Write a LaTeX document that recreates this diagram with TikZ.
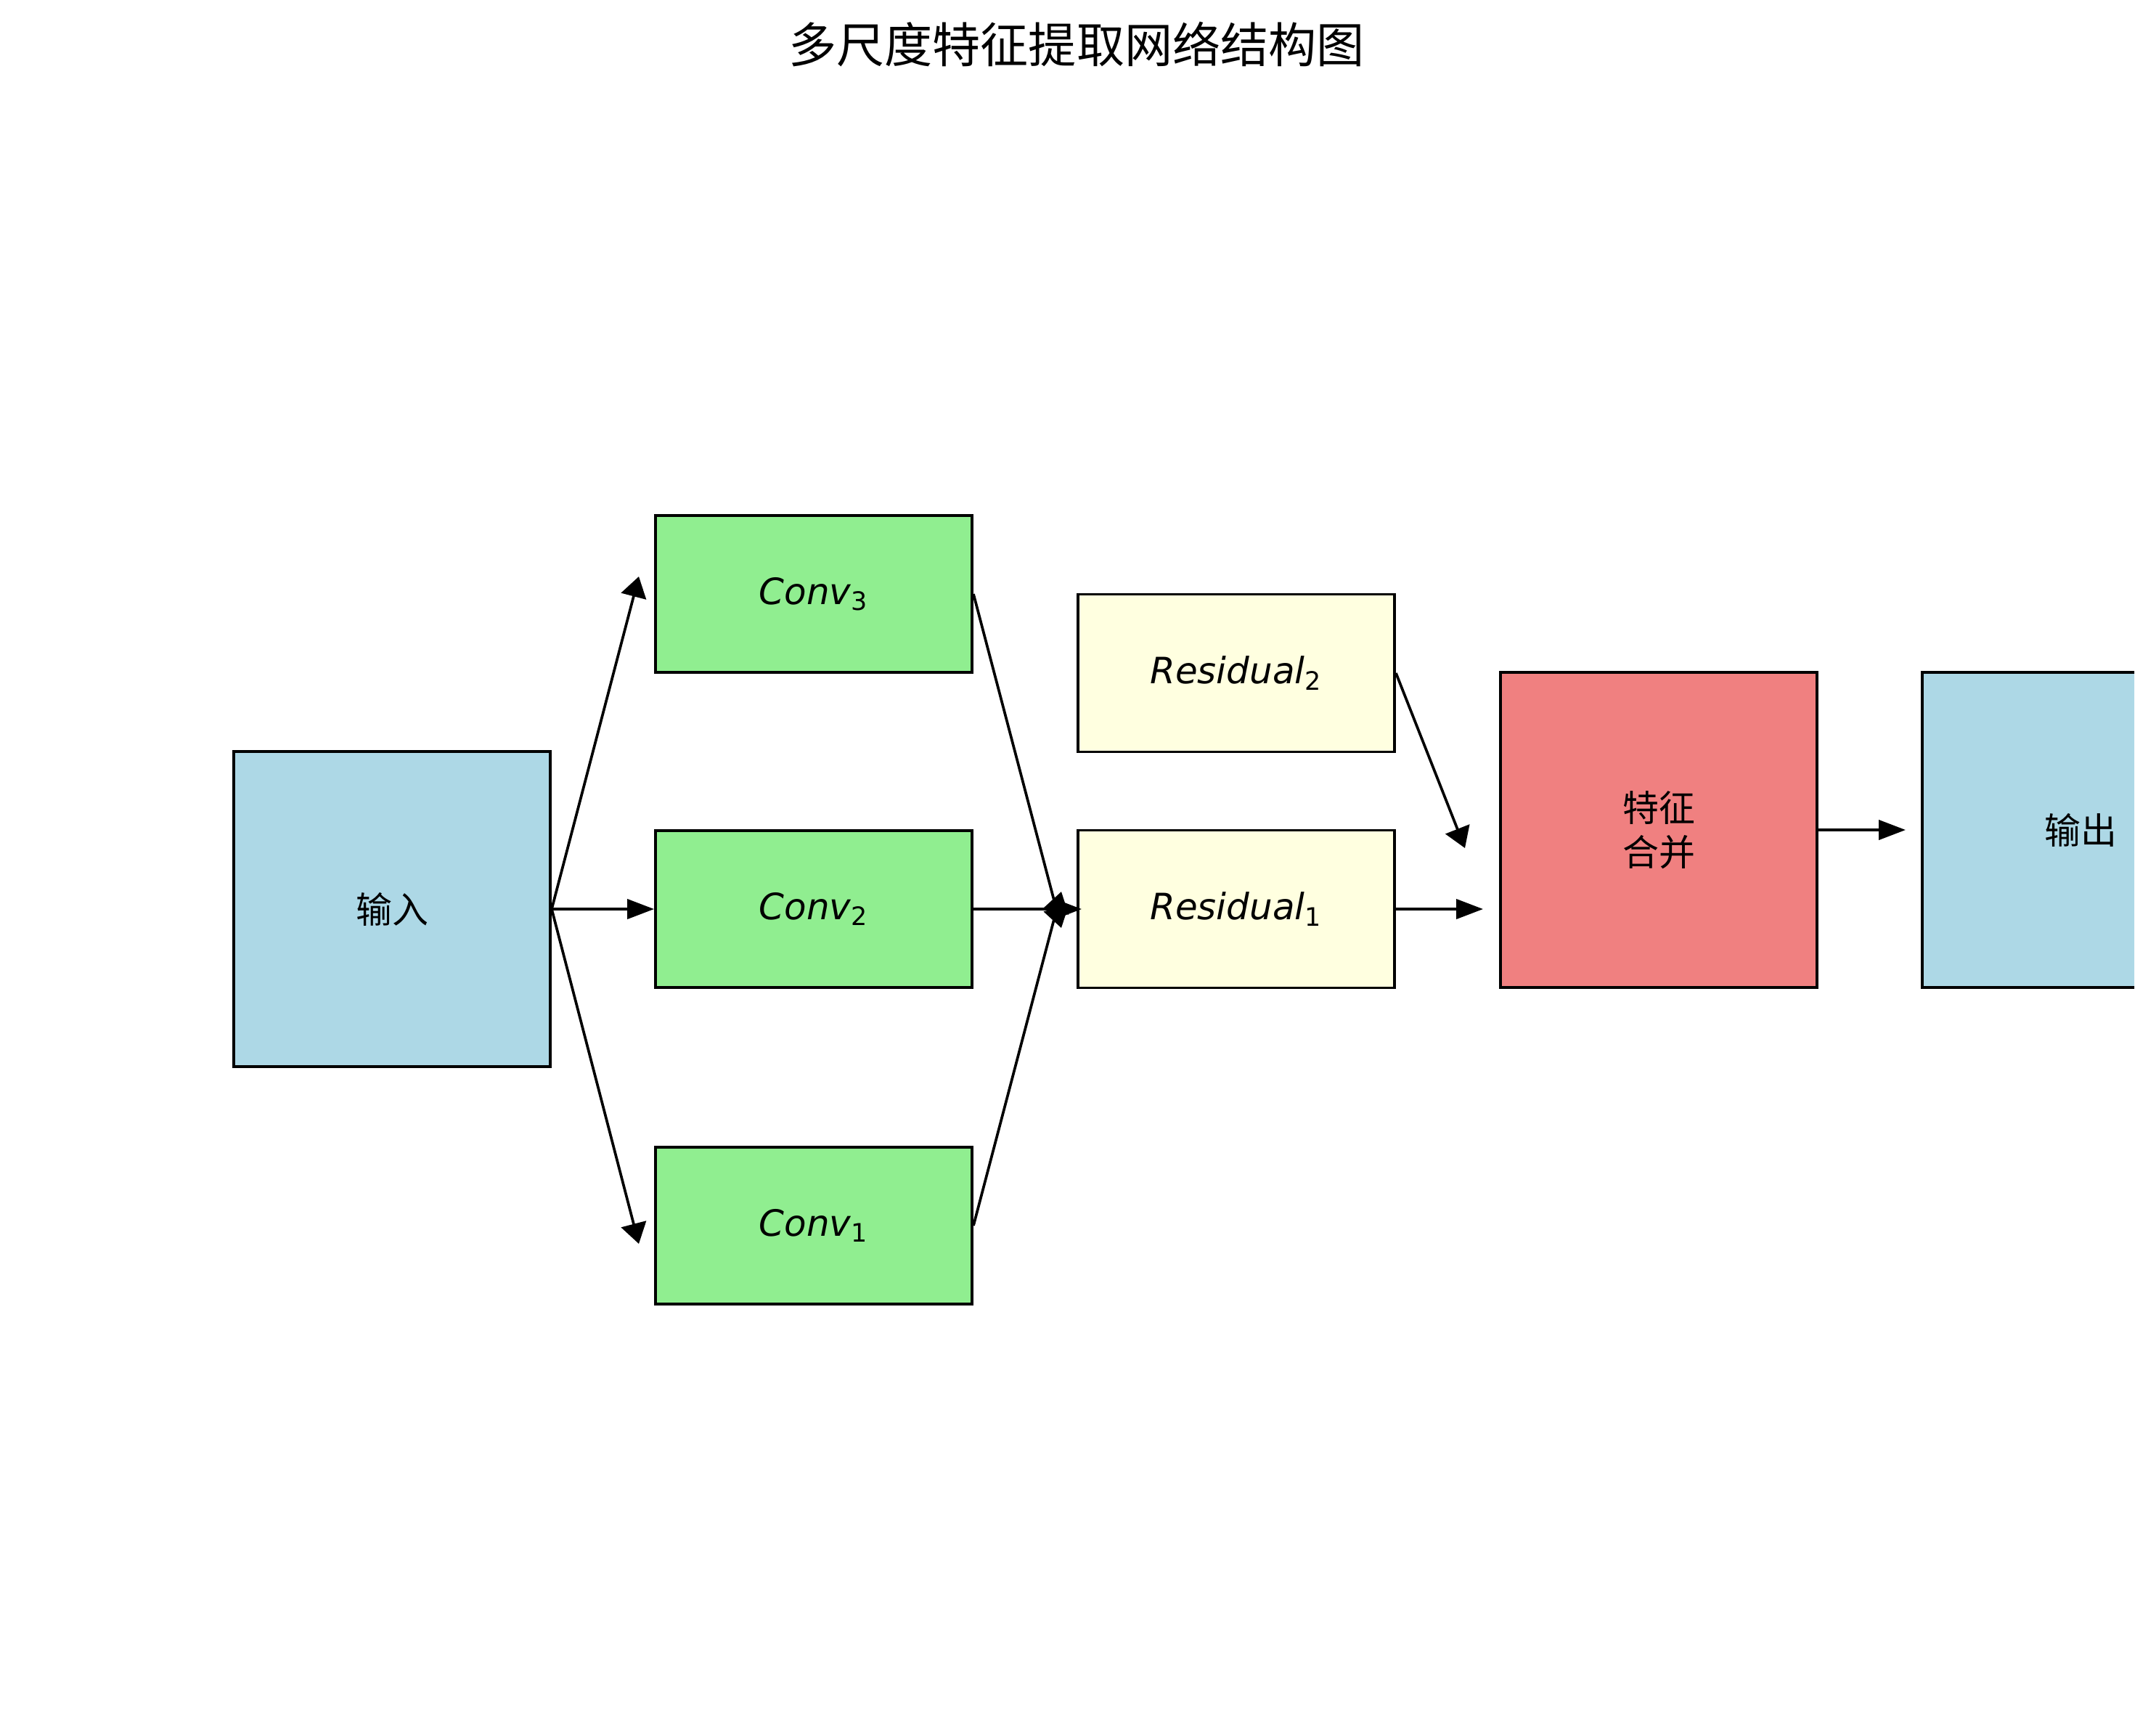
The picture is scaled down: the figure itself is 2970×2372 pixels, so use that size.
\documentclass[tikz,border=0pt]{standalone}
\usepackage{fontspec}
\setmainfont{DejaVu Sans}
\newfontfamily\cjk{Noto Sans CJK SC}
\usepackage{xcolor}
\usetikzlibrary{arrows.meta}

\definecolor{inblue}{HTML}{ADD8E6}
\definecolor{convgreen}{HTML}{90EE90}
\definecolor{resyellow}{HTML}{FFFFE0}
\definecolor{mergered}{HTML}{F08080}
\newcommand{\sublbl}[2]{{\itshape #1}\textsubscript{#2}}

\begin{document}
\begin{tikzpicture}[x=0.01cm,y=-0.01cm,line width=1.05pt,
  >={Triangle[length=10.5pt,width=7.7pt]},
  steep/.style={-{Triangle[length=8pt,width=10pt]}},
  blk/.style={draw=black,line width=1.05pt,inner sep=0pt,align=center,
    font=\fontsize{14.2}{17.5}\selectfont},
  bigbox/.style={blk,minimum width=4.36cm,minimum height=4.34cm},
  convbox/.style={blk,fill=convgreen,minimum width=4.36cm,minimum height=2.16cm},
  resbox/.style={blk,fill=resyellow,minimum width=4.36cm,minimum height=2.17cm}]
  \useasboundingbox (0,0) rectangle (2970,2372);
  \node[font=\cjk\fontsize{18.8}{22}\selectfont] (title) at (1483,61) {多尺度特征提取网络结构图};

  % boxes
  \node[bigbox,fill=inblue,font=\cjk\fontsize{14.2}{17.5}\selectfont] (in) at (540,1252) {输入};
  \node[convbox] (conv3) at (1121,818) {\sublbl{Conv}{3}};
  \node[convbox] (conv2) at (1121,1252) {\sublbl{Conv}{2}};
  \node[convbox] (conv1) at (1121,1688) {\sublbl{Conv}{1}};
  \node[resbox] (res2) at (1703,927) {\sublbl{Residual}{2}};
  \node[resbox] (res1) at (1703,1252) {\sublbl{Residual}{1}};
  \node[bigbox,fill=mergered,font=\cjk\fontsize{14.2}{17.5}\selectfont] (merge) at (2285,1143) {特征\\合并};
  \begin{scope}
    \clip (0,0) rectangle (2940,2372);
    \node[bigbox,fill=inblue,font=\cjk\fontsize{14.2}{17.5}\selectfont] (out) at (2866,1143) {输出};
  \end{scope}

  % arrow ends
  \coordinate (t3) at (880,794);
  \coordinate (t1) at (880,1713);
  \coordinate (j3) at (1462,1278);
  \coordinate (j1) at (1462,1228);
  \coordinate (j2) at (1490,1252);
  \coordinate (m2) at (2018,1168);
  \coordinate (m1) at (2043,1252);
  \coordinate (o1) at (2625,1143);

  \draw[steep] (in.east) -- (t3);
  \draw[->] (in.east) -- (conv2.west);
  \draw[steep] (in.east) -- (t1);
  \draw[steep] (conv3.east) -- (j3);
  \draw[steep] (conv1.east) -- (j1);
  \draw[->] (conv2.east) -- (j2);
  \draw[steep] (res2.east) -- (m2);
  \draw[->] (res1.east) -- (m1);
  \draw[->] (merge.east) -- (o1);
\end{tikzpicture}
\end{document}
